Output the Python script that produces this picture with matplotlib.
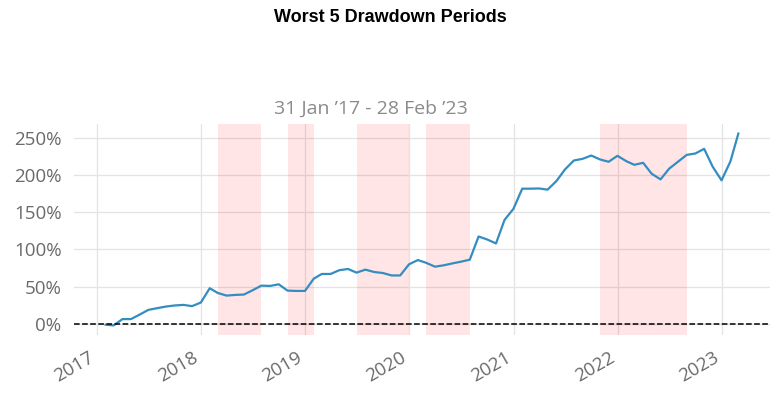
import matplotlib
matplotlib.use("Agg")
import matplotlib.pyplot as plt
import matplotlib.dates as mdates
import matplotlib.ticker as mticker
import pandas as pd

# Cumulative returns (%), monthly, Jan 2017 - Feb 2023
dates = pd.date_range("2017-01-31", "2023-02-28", freq="ME")
cum_returns = [
    -1.3, -2.2, 6.3, 6.3, 12.5, 18.7, 21.0, 23.2, 24.6, 25.4, 23.7, 28.6,
    47.8, 41.5, 37.9, 38.8, 39.3, 45.0, 51.3, 50.9, 53.1, 44.6, 44.2, 44.2,
    60.7, 67.0, 67.0, 72.0, 73.7, 68.8, 72.8, 69.6, 68.3, 65.0, 65.0, 80.0,
    85.7, 82.0, 76.8, 78.6, 81.2, 83.5, 86.2, 117.4, 113.4, 108.0, 139.7, 154.5,
    181.7, 181.7, 182.0, 180.4, 192.0, 207.6, 219.6, 221.9, 226.3, 221.0, 217.9, 225.9,
    218.7, 213.8, 216.5, 201.8, 194.2, 208.5, 217.9, 227.2, 229.0, 235.3, 211.2, 192.9,
    218.3, 255.8,
]

dd_starts = ["2018-02-28", "2018-10-31", "2019-06-30", "2020-02-29", "2021-10-31"]
dd_ends = ["2018-07-31", "2019-01-31", "2019-12-31", "2020-07-31", "2022-08-31"]

title = "Worst 5 Drawdown Periods"
subtitle = "31 Jan \u201917 - 28 Feb \u201923"

tick_font = ["Open Sans", "DejaVu Sans"]

fig = plt.figure(figsize=(7.8, 3.96), dpi=100)
ax = fig.add_axes([74 / 780, 1 - 335 / 396, (770 - 74) / 780, (335 - 124) / 396])

for s in ax.spines.values():
    s.set_visible(False)

ax.grid(True, color="#e3e3e3", lw=0.9)
ax.set_axisbelow(True)

ax.plot(dates, cum_returns, color="#348dc1", lw=1.6, zorder=3)

for s, e in zip(dd_starts, dd_ends):
    ax.axvspan(pd.Timestamp(s), pd.Timestamp(e), color="red", alpha=0.1, lw=0, zorder=2)

ax.axhline(0, color="black", ls="--", lw=1.1, zorder=4)

ax.yaxis.set_major_locator(mticker.MultipleLocator(50))
ax.yaxis.set_major_formatter(mticker.FuncFormatter(lambda v, p: f"{v:.0f}%"))
ax.xaxis.set_major_locator(mdates.YearLocator())
ax.xaxis.set_major_formatter(mdates.DateFormatter("%Y"))

ax.tick_params(axis="both", length=0, labelsize=13.5, labelcolor="#6a6a6a")
ax.tick_params(axis="y", pad=9)
ax.tick_params(axis="x", pad=10)
for lab in ax.get_yticklabels():
    lab.set_family(tick_font)
for lab in ax.get_xticklabels():
    lab.set_family(tick_font)
    lab.set_rotation(30)
    lab.set_ha("right")

ax.margins(x=0.05, y=0.05)

fig.text(0.5, 1 - 18 / 396, title, ha="center", va="center", fontsize=13,
         fontweight="bold", family=["Liberation Sans", "DejaVu Sans"], color="black")
fig.text(371 / 780, 1 - 109 / 396, subtitle, ha="center", va="center", fontsize=14,
         color="#8a8a8a", family=tick_font)

fig.savefig("out.png", dpi=100, facecolor="white")
